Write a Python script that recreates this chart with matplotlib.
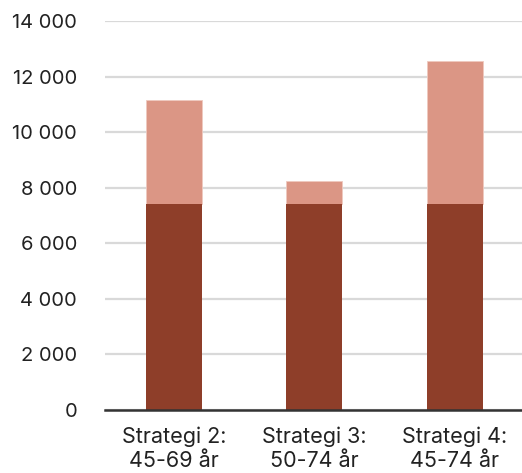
import matplotlib
matplotlib.use("Agg")
from matplotlib import pyplot as plt
from matplotlib.ticker import FuncFormatter

categories = ['Strategi 2:\n45-69 år', 'Strategi 3:\n50-74 år', 'Strategi 4:\n45-74 år']
base = [7430, 7430, 7430]
extra = [3730, 800, 5120]

dark = '#8E3E29'
light = '#DB9685'

plt.rcParams['font.family'] = ['Inter', 'DejaVu Sans']

fig = plt.figure(figsize=(5.22, 4.73), dpi=100)
ax = fig.add_axes([105 / 522, 1 - 410 / 473, 1 - 105 / 522, (410 - 21) / 473])

x = range(len(categories))
ax.bar(x, base, width=0.4, color=dark, linewidth=0, zorder=3)
ax.bar(x, extra, bottom=base, width=0.4, color=light, edgecolor='#efc9bf', linewidth=0.6, zorder=2.9)

ax.set_xlim(-0.49, 2.48)
ax.set_ylim(0, 14000)
ax.set_yticks(range(0, 14001, 2000))
ax.yaxis.set_major_formatter(FuncFormatter(lambda v, p: f'{int(v):,}'.replace(',', ' ')))
ax.set_xticks(list(x))
ax.set_xticklabels(categories)

ax.grid(axis='y', color='#d9d9d9', linewidth=1.6, zorder=0)
for s in ['top', 'right', 'left']:
    ax.spines[s].set_visible(False)
ax.spines['bottom'].set_color('#333333')
ax.spines['bottom'].set_linewidth(1.8)
ax.spines['bottom'].set_zorder(4)
ax.tick_params(axis='both', length=0, colors='#222222')
ax.tick_params(axis='y', pad=20, labelsize=14.5)
ax.tick_params(axis='x', pad=12, labelsize=15.5)
for lbl in ax.get_xticklabels():
    lbl.set_linespacing(1.25)

fig.savefig('out.png', dpi=100)
